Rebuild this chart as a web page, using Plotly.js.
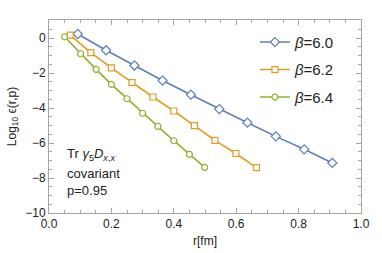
<!DOCTYPE html>
<html><head><meta charset="utf-8">
<script src="https://cdn.plot.ly/plotly-3.0.1.min.js"></script>
<style>html,body{margin:0;padding:0;background:#fff}</style>
</head><body>
<div id="chart" style="width:382px;height:253px"></div>
<script>
const seriesNames = ["<i>\u03b2</i>=6.0", "<i>\u03b2</i>=6.2", "<i>\u03b2</i>=6.4"];
const rBeta60 = [0.092, 0.183, 0.274, 0.364, 0.455, 0.546, 0.636, 0.727, 0.818, 0.908];
const logBeta60 = [0.23, -0.70, -1.57, -2.43, -3.24, -4.06, -4.84, -5.62, -6.36, -7.14];
const rBeta62 = [0.068, 0.134, 0.200, 0.266, 0.333, 0.400, 0.466, 0.532, 0.599, 0.665];
const logBeta62 = [0.17, -0.84, -1.71, -2.55, -3.37, -4.17, -5.01, -5.85, -6.60, -7.41];
const rBeta64 = [0.050, 0.101, 0.151, 0.200, 0.250, 0.300, 0.349, 0.400, 0.450, 0.499];
const logBeta64 = [0.07, -0.90, -1.79, -2.65, -3.47, -4.30, -5.05, -5.87, -6.65, -7.39];
const colors = ["#5E81B5", "#E19C24", "#8FB032"];
const symbols = ["diamond", "square", "circle"];
const xs = [rBeta60, rBeta62, rBeta64];
const ys = [logBeta60, logBeta62, logBeta64];

const traces = xs.map((x, i) => ({
  x: x, y: ys[i], name: seriesNames[i], legendgroup: "g" + i, type: "scatter", mode: "lines+markers",
  line: {color: colors[i], width: 1.6},
  marker: {symbol: symbols[i], size: i === 0 ? 7 : 6, color: "#fff", line: {color: colors[i], width: 1.2}},
  hoverinfo: "none"
}));

const font = {family: "Liberation Sans, Arial, sans-serif", color: "#222"};
const axisCommon = {
  showgrid: false, zeroline: false, showline: true, linecolor: "#a6a6a6", linewidth: 1,
  mirror: "ticks", ticks: "inside", tickcolor: "#a6a6a6", ticklen: 5, tickwidth: 1,
  tickfont: {size: 12, family: font.family, color: "#222"}
};
const annFont = {size: 13, family: font.family, color: "#222"};
const layout = {
  width: 382, height: 253,
  margin: {l: 48.5, r: 21, t: 20, b: 40},
  paper_bgcolor: "#fff", plot_bgcolor: "#fff",
  font: font,
  showlegend: true,
  legend: {x: 0.66, y: 0.97, xanchor: "left", yanchor: "top", bgcolor: "rgba(0,0,0,0)",
           font: {size: 15, family: font.family, color: "#222"}, tracegroupgap: 5, itemwidth: 30},
  xaxis: Object.assign({}, axisCommon, {
    range: [0, 1.0], tick0: 0, dtick: 0.2, tickformat: ".1f",
    minor: {dtick: 0.05, ticks: "inside", ticklen: 3, tickcolor: "#a6a6a6"},
    title: {text: "r[fm]", font: {size: 12, family: font.family, color: "#222"}, standoff: 6}
  }),
  yaxis: Object.assign({}, axisCommon, {
    range: [-10, 1.03], tick0: 0, dtick: 2,
    minor: {dtick: 0.5, ticks: "inside", ticklen: 3, tickcolor: "#a6a6a6"},
    title: {text: "Log<sub>10</sub> \u03f5(r,p)", font: {size: 12, family: font.family, color: "#222"}, standoff: 6}
  }),
  annotations: [
    {text: "Tr <i>\u03b3</i><sub>5</sub><i>D</i><sub><i>x</i>,<i>x</i></sub>", xref: "paper", yref: "paper",
     x: 0.05, y: 0.305, xanchor: "left", yanchor: "middle", showarrow: false, font: annFont},
    {text: "covariant", xref: "paper", yref: "paper",
     x: 0.05, y: 0.207, xanchor: "left", yanchor: "middle", showarrow: false, font: annFont},
    {text: "p=0.95", xref: "paper", yref: "paper",
     x: 0.05, y: 0.114, xanchor: "left", yanchor: "middle", showarrow: false, font: annFont}
  ]
};
Plotly.newPlot("chart", traces, layout, {staticPlot: true, displayModeBar: false});
</script>
</body></html>
